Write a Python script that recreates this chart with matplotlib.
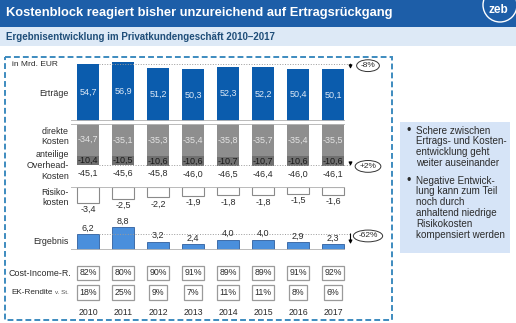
import matplotlib
matplotlib.use("Agg")
import matplotlib.pyplot as plt
from matplotlib.patches import Rectangle, Circle

plt.rcParams["font.family"] = ["Liberation Sans", "DejaVu Sans"]

# Werte in Mrd. EUR
jahre = [2010, 2011, 2012, 2013, 2014, 2015, 2016, 2017]
ertraege = [54.7, 56.9, 51.2, 50.3, 52.3, 52.2, 50.4, 50.1]
direkte_kosten = [-34.7, -35.1, -35.3, -35.4, -35.8, -35.7, -35.4, -35.5]
overhead_kosten = [-10.4, -10.5, -10.6, -10.6, -10.7, -10.7, -10.6, -10.6]
kosten_gesamt = [-45.1, -45.6, -45.8, -46.0, -46.5, -46.4, -46.0, -46.1]
risikokosten = [-3.4, -2.5, -2.2, -1.9, -1.8, -1.8, -1.5, -1.6]
ergebnis = [6.2, 8.8, 3.2, 2.4, 4.0, 4.0, 2.9, 2.3]
cir = [82, 80, 90, 91, 89, 89, 91, 92]
ek_rendite = [18, 25, 9, 7, 11, 11, 8, 6]
veraenderung = ["-8%", "+2%", "-62%"]

W, H = 516, 323
BLAU = "#0b5cad"
HELLBLAU = "#4a8fdc"
GRAU_D = "#8e8e8e"
GRAU_O = "#707070"
TXT = "#2b2b2b"


def de(v):
    return f"{v:.1f}".replace(".", ",")


def px_axes(x0, y0, x1, y1):
    a = fig.add_axes([x0 / W, 1 - y1 / H, (x1 - x0) / W, (y1 - y0) / H])
    a.set_xlim(-1, 8)
    a.axis("off")
    a.patch.set_alpha(0)
    return a


fig = plt.figure(figsize=(W / 100, H / 100), dpi=100)

# Hintergrund / Rahmen in Pixelkoordinaten
bg = fig.add_axes([0, 0, 1, 1])
bg.set_xlim(0, W)
bg.set_ylim(H, 0)
bg.axis("off")
bg.add_patch(Rectangle((0, 0), W, 26.5, color="#1d5ea8", lw=0))
bg.add_patch(Rectangle((0, 26.5), W, 19.5, color="#dde9f6", lw=0))
bg.text(6, 13, "Kostenblock reagiert bisher unzureichend auf Ertragsrückgang",
        color="white", fontsize=9.3, fontweight="bold", va="center")
bg.add_patch(Circle((500, 5), 17, fill=False, edgecolor="white", lw=1.0))
bg.text(498, 10, "zeb", color="white", fontsize=8.5, fontweight="bold",
        ha="center", va="center")
bg.text(6, 37, "Ergebnisentwicklung im Privatkundengeschäft 2010–2017",
        color="#1f4e79", fontsize=7.05, fontweight="bold", va="center")
bg.add_patch(Rectangle((5, 57), 387, 263, fill=False, edgecolor="#3d8bbf",
                       lw=1.4, linestyle=(0, (3, 1.6))))

# Textbox rechts
bg.add_patch(Rectangle((400, 122), 110, 131, color="#d6e4f7", lw=0))
bg.text(409, 131, "•", fontsize=9, va="center", ha="center", color=TXT)
bg.text(416, 125.5, "Schere zwischen\nErtrags- und Kosten-\nentwicklung geht\nweiter auseinander",
        fontsize=7.1, va="top", color=TXT, linespacing=1.12)
bg.text(409, 181, "•", fontsize=9, va="center", ha="center", color=TXT)
bg.text(416, 175.5, "Negative Entwick-\nlung kann zum Teil\nnoch durch\nanhaltend niedrige\n"
        "Risikokosten\nkompensiert werden",
        fontsize=7.1, va="top", color=TXT, linespacing=1.12)

# Zeilenbeschriftungen
lab = dict(fontsize=6.4, color=TXT, ha="right", va="center", linespacing=1.25)
bg.text(12, 64, "in Mrd. EUR", fontsize=6, color=TXT, va="center")
bg.text(69, 93, "Erträge", **lab)
bg.text(69, 136.5, "direkte\nKosten", **lab)
bg.text(69, 165.5, "anteilige\nOverhead-\nKosten", **lab)
bg.text(69, 197.5, "Risiko-\nkosten", **lab)
bg.text(69, 241, "Ergebnis", **lab)
bg.text(71, 273, "Cost-Income-R.", **lab)
bg.text(53, 292, "EK-Rendite", fontsize=5.9, color=TXT, ha="right", va="center")
bg.text(55, 292.5, "v. St.", fontsize=4.5, color="#555555", va="center")

x = list(range(len(jahre)))
bw = 0.63
n = len(jahre) - 1
pfeil = dict(arrowstyle="-|>", color="black", lw=0.8, mutation_scale=5,
             shrinkA=0, shrinkB=0)
oval = dict(boxstyle="ellipse,pad=0.08", fc="white", ec="#333333", lw=0.7)

# Erträge
ax_e = px_axes(53, 57, 368, 121)
ax_e.set_ylim(0, 64 / 1.04)
ax_e.bar(x, ertraege, width=bw, color=BLAU)
for i, v in enumerate(ertraege):
    ax_e.text(i, v / 2, de(v), ha="center", va="center", fontsize=6.5,
              color="#dce8f6")
ax_e.hlines(0, -0.5, 7.35, color="#b5b5b5", lw=1.3)
ax_e.hlines(ertraege[0], 0.32, n + 0.5, color="#9a9a9a", lw=0.7, linestyles=":")
ax_e.annotate("", xy=(n + 0.5, ertraege[-1]), xytext=(n + 0.5, ertraege[0]),
              arrowprops=pfeil, annotation_clip=False)
ax_e.text(n + 1.0, ertraege[0] - 1.5, veraenderung[0], ha="center", va="center",
          fontsize=6, color=TXT, bbox=oval, clip_on=False)

# Kosten
ax_k = px_axes(53, 124, 368, 172)
ax_k.set_ylim(-48 / 0.91, 0)
ax_k.bar(x, direkte_kosten, width=bw, color=GRAU_D)
ax_k.bar(x, overhead_kosten, width=bw, bottom=direkte_kosten, color=GRAU_O)
for i in x:
    d, o = direkte_kosten[i], overhead_kosten[i]
    ax_k.text(i, d / 2, de(d), ha="center", va="center", fontsize=6.5,
              color="#e4e4e4")
    ax_k.text(i, d + o / 2, de(o), ha="center", va="center", fontsize=6.5,
              color="#1a1a1a")
    ax_k.annotate(de(kosten_gesamt[i]), xy=(i, d + o), xytext=(0, -2.5),
                  textcoords="offset points", ha="center", va="top",
                  fontsize=6.5, color=TXT, annotation_clip=False)
ax_k.hlines(0, -0.5, 7.35, color="#b5b5b5", lw=1.3)
ax_k.hlines(kosten_gesamt[0], 0.32, n + 0.5, color="#9a9a9a", lw=0.7,
            linestyles=":")
ax_k.annotate("", xy=(n + 0.5, kosten_gesamt[-1]),
              xytext=(n + 0.5, kosten_gesamt[0] + 2.5),
              arrowprops=pfeil, annotation_clip=False)
ax_k.text(n + 1.0, kosten_gesamt[-1] - 0.5, veraenderung[1], ha="center",
          va="center", fontsize=6, color=TXT, bbox=oval, clip_on=False)

# Risikokosten
ax_r = px_axes(53, 187, 368, 215)
ax_r.set_ylim(-28 / 4.7, 0)
ax_r.bar(x, risikokosten, width=bw, color="white", edgecolor="#8a8a8a", lw=0.8)
for i, v in enumerate(risikokosten):
    ax_r.annotate(de(v), xy=(i, v), xytext=(0, -1.5), textcoords="offset points",
                  ha="center", va="top", fontsize=6.5, color=TXT,
                  annotation_clip=False)
ax_r.hlines(0, -0.5, 7.35, color="#b5b5b5", lw=1.3)

# Ergebnis
ax_g = px_axes(53, 222, 368, 250)
ax_g.set_ylim(0, 28 / 2.6)
ax_g.bar(x, ergebnis, width=bw, color=HELLBLAU, edgecolor="#2f5f9e", lw=0.6)
for i, v in enumerate(ergebnis):
    ax_g.annotate(de(v), xy=(i, v), xytext=(0, 1), textcoords="offset points",
                  ha="center", va="bottom", fontsize=6.5, color=TXT,
                  annotation_clip=False)
ax_g.hlines(0, -0.5, 7.35, color="#b5b5b5", lw=1.3)
ax_g.hlines(ergebnis[0], 0.32, n + 0.5, color="#9a9a9a", lw=0.7, linestyles=":")
ax_g.annotate("", xy=(n + 0.5, ergebnis[-1]), xytext=(n + 0.5, ergebnis[0]),
              arrowprops=pfeil, annotation_clip=False)
ax_g.text(n + 1.0, ergebnis[0] - 0.8, veraenderung[2], ha="center", va="center",
          fontsize=6, color=TXT, bbox=oval, clip_on=False)

# Kennzahlen und Jahre
ax_t = px_axes(53, 262, 368, 320)
ax_t.set_ylim(2.41, -0.564)
kasten = dict(boxstyle="square,pad=0.3", fc="white", ec="#9a9a9a", lw=0.9)
for i in x:
    ax_t.text(i, 0, f"{cir[i]}%", ha="center", va="center", fontsize=6.3,
              color=TXT, bbox=kasten)
    ax_t.text(i, 1, f"{ek_rendite[i]}%", ha="center", va="center", fontsize=6.3,
              color=TXT, bbox=kasten)
    ax_t.text(i, 2, str(jahre[i]), ha="center", va="center", fontsize=6.3,
              color=TXT)

fig.savefig("out.png", dpi=100)
